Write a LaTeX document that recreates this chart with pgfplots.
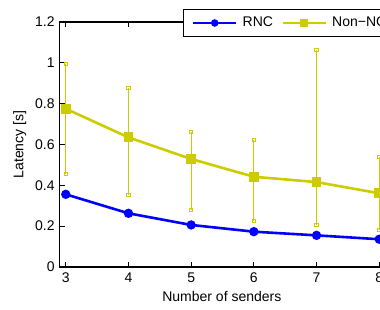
\documentclass[border=0pt]{standalone}
\usepackage{fontspec}
\setmainfont{Liberation Sans}
\usepackage{pgfplots}
\pgfplotsset{compat=1.18}
\definecolor{myyel}{rgb}{0.8,0.8,0}
\pgfplotstableread{
x y
3 0.356
4 0.263
5 0.206
6 0.173
7 0.155
8 0.136
}\rnc
\pgfplotstableread{
x y ep em
3 0.775 0.218 0.320
4 0.635 0.240 0.282
5 0.529 0.134 0.250
6 0.442 0.180 0.217
7 0.416 0.647 0.209
8 0.361 0.176 0.180
}\nonnc
\begin{document}
\fontsize{14}{16.5}\selectfont
\begin{tikzpicture}[x=1pt,y=1pt]
\begin{axis}[
  at={(59.5pt,42pt)}, anchor=south west,
  scale only axis, width=326pt, height=245pt,
  xmin=2.9, xmax=8.1, ymin=0, ymax=1.2,
  xtick={3,4,5,6,7,8},
  ytick={0,0.2,0.4,0.6,0.8,1,1.2},
  /pgf/number format/assume math mode=true,
  tick align=inside,
  major tick length=5pt,
  axis line style={line width=1.3pt},
  every tick/.style={black, line width=0.8pt},
  xticklabel style={yshift=-1pt},
  xlabel={Number of senders},
  ylabel={Latency [s]},
  every axis y label/.style={at={(axis description cs:-0.122,0.5)}, rotate=90, anchor=center},
  every axis x label/.style={at={(axis description cs:0.498,-0.121)}, anchor=center},
  legend columns=2,
  legend style={at={(0.3798,0.996)}, anchor=west, draw=black, line width=1pt, fill=white,
    inner xsep=8.4pt, inner ysep=7pt,
    nodes={inner sep=0pt, text height=10pt, text depth=3pt},
    /tikz/every odd column/.append style={column sep=5.5pt},
    /tikz/every even column/.append style={column sep=8.6pt}},
  legend cell align=left,
  legend image code/.code={\draw[line width=2pt, mark size=2.7pt, mark repeat=2,mark phase=2] plot coordinates {(0pt,0pt) (21.5pt,0pt) (43pt,0pt)};},
]
\addplot[blue, line width=2.6pt, mark=*, mark size=3.3pt, mark options={solid}] table[x=x,y=y]{\rnc};
\addlegendentry{RNC}
\addplot[myyel, line width=2.6pt, mark=square*, mark size=3.6pt,
  error bars/.cd, y dir=both, y explicit,
  error bar style={line width=1.2pt, myyel},
  error mark=square, error mark options={line width=1pt, mark size=1.6pt, myyel, rotate=0}]
  table[x=x,y=y,y error plus=ep,y error minus=em]{\nonnc};
\addlegendentry{Non\textminus NC}
\end{axis}
\pgfresetboundingbox
\useasboundingbox (0,0) rectangle (380,309);
\end{tikzpicture}
\end{document}
